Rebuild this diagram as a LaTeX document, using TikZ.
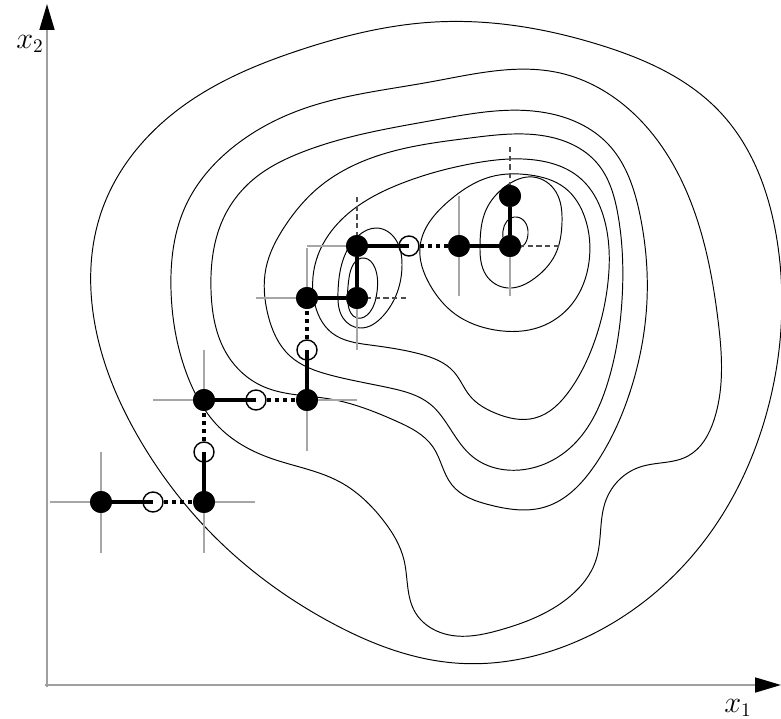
\documentclass[tikz,border=0pt]{standalone}
\usepackage{tikz}
\usetikzlibrary{arrows.meta,hobby}

\begin{document}
\begin{tikzpicture}[x=0.02cm, y=-0.02cm,
      cont/.style={draw=black, line width=0.55pt},
      axis/.style={draw=gray!75, line width=1pt,
                   -{Triangle[length=0.52cm, width=0.3cm, color=black]}},
      probe/.style={draw=gray!70, line width=0.8pt},
      probedash/.style={draw=gray!60!black, line width=0.7pt, dash pattern=on 3pt off 2pt},
      hit/.style={circle, fill=black, inner sep=0pt, minimum size=0.44cm},
      miss/.style={circle, draw=black, line width=0.8pt, inner sep=0pt, minimum size=0.40cm},
      move/.style={draw=black, line width=2.2pt},
      back/.style={draw=black, line width=2.2pt, dash pattern=on 2.3pt off 2.3pt},
      lab/.style={font=\fontsize{16}{18}\selectfont, inner sep=0pt}
  ]
    \useasboundingbox (0,0) rectangle (781,719);

    % contour lines
    \draw[cont] plot[closed hobby] coordinates {
      (435,22) (600,45) (720,112) (777,240) (770,400) (705,540) (580,640) (455,663)
      (330,622) (220,542) (140,440) (96,330) (102,210) (175,112) (300,50)};
    \draw[cont] plot[closed hobby] coordinates {
      (300,110) (430,82) (560,73) (632,112) (692,205) (718,320) (714,420) (688,456)
      (640,467) (606,500) (596,560) (568,598) (500,630) (445,634) (415,612) (404,560)
      (383,520) (340,482) (270,458) (222,430) (186,372) (171,290) (186,205) (232,148)};
    \draw[cont] plot[closed hobby] coordinates {
      (300,153) (435,120) (547,113) (608,144) (640,215) (647,300) (630,392) (595,465)
      (545,507) (490,505) (452,485) (433,447) (396,421) (330,399) (262,386) (228,356)
      (211,290) (225,215) (255,178)};
    \draw[cont] plot[closed hobby] coordinates {
      (318,188) (380,155) (470,138) (545,136) (597,163) (618,215) (622,300) (607,385)
      (570,448) (520,470) (473,457) (451,430) (430,404) (390,388) (330,375) (290,356)
      (268,315) (266,268) (285,226)};
    \draw[cont] plot[closed hobby] coordinates {
      (350,212) (400,184) (470,164) (535,160) (580,178) (605,222) (608,282) (595,340)
      (570,390) (535,418) (495,413) (470,396) (454,372) (420,354) (370,345) (332,333)
      (314,300) (318,255)};
    \draw[cont] plot[closed hobby] coordinates {
      (420,247) (430,285) (455,314) (495,330) (540,327) (572,304) (589,262) (585,218)
      (565,188) (530,175) (490,177) (450,200)};
    \draw[cont] plot[closed hobby] coordinates {
      (533,177) (556,192) (562,222) (555,255) (535,278) (508,288) (486,275) (480,245)
      (486,210) (506,186)};
    \draw[cont] plot[closed hobby] coordinates {
      (514,217) (525,222) (528,234) (523,246) (514,249) (505,243) (503,231) (507,221)};
    \draw[cont] plot[closed hobby] coordinates {
      (377,228) (396,240) (402,265) (397,293) (383,316) (360,328) (343,318) (338,292)
      (343,260) (358,236)};
    \draw[cont] plot[closed hobby] coordinates {
      (364,258) (375,268) (377,292) (370,312) (357,318) (348,304) (349,278)};

    % axes
    \coordinate (o) at (47,687);
    \coordinate (ytop) at (47,4);
    \coordinate (xorg) at (45,685);
    \coordinate (xend) at (781,685);
    \draw[axis] (o) -- (ytop);
    \draw[axis] (xorg) -- (xend);
    \node[lab] (lx2) at (30,44) {$x_2$};
    \node[lab] (lx1) at (738,708) {$x_1$};

    % search points
    \node[hit] (p1) at (101,502) {};
    \node[hit] (p2) at (204,502) {};
    \node[hit] (p3) at (204,400) {};
    \node[hit] (p4) at (307,400) {};
    \node[hit] (p5) at (307,298) {};
    \node[hit] (p6) at (357,298) {};
    \node[hit] (p7) at (357,246) {};
    \node[hit] (p8) at (459,246) {};
    \node[hit] (p9) at (510,246) {};
    \node[hit] (p10) at (510,196) {};
    \node[miss] (o1) at (153,502) {};
    \node[miss] (o2) at (204,452) {};
    \node[miss] (o3) at (256,400) {};
    \node[miss] (o4) at (307,350) {};
    \node[miss] (o5) at (409,246) {};

    \foreach \p/\dx/\dy in {p1/-51/0, p1/0/-50, p1/0/51, p2/51/0, p2/0/51,
                             p3/-51/0, p3/0/-50, p4/50/0, p4/0/51, p5/-51/0,
                             p5/0/-50, p6/0/52, p7/-50/0, p8/0/-50, p8/0/50, p9/0/50}
      \draw[probe] (\p.center) -- ++(\dx,\dy);
    \foreach \p/\dx/\dy in {p6/51/0, p9/50/0, p7/0/-50, p10/0/-51}
      \draw[probedash] (\p.center) -- ++(\dx,\dy);

    \draw[move] (p1.center) -- (o1.center);
    \draw[back] (o1) -- (p2);
    \draw[move] (p2.center) -- (o2.center);
    \draw[back] (o2) -- (p3);
    \draw[move] (p3.center) -- (o3.center);
    \draw[back] (o3) -- (p4);
    \draw[move] (p4.center) -- (o4.center);
    \draw[back] (o4) -- (p5);
    \draw[move] (p5) -- (p6);
    \draw[move] (p6) -- (p7);
    \draw[move] (p7.center) -- (o5.center);
    \draw[back] (o5) -- (p8);
    \draw[move] (p8) -- (p9);
    \draw[move] (p9) -- (p10);

    \foreach \n in {p1,p2,p3,p4,p5,p6,p7,p8,p9,p10}
      \node[hit] at (\n) {};
  \end{tikzpicture}
\end{document}
